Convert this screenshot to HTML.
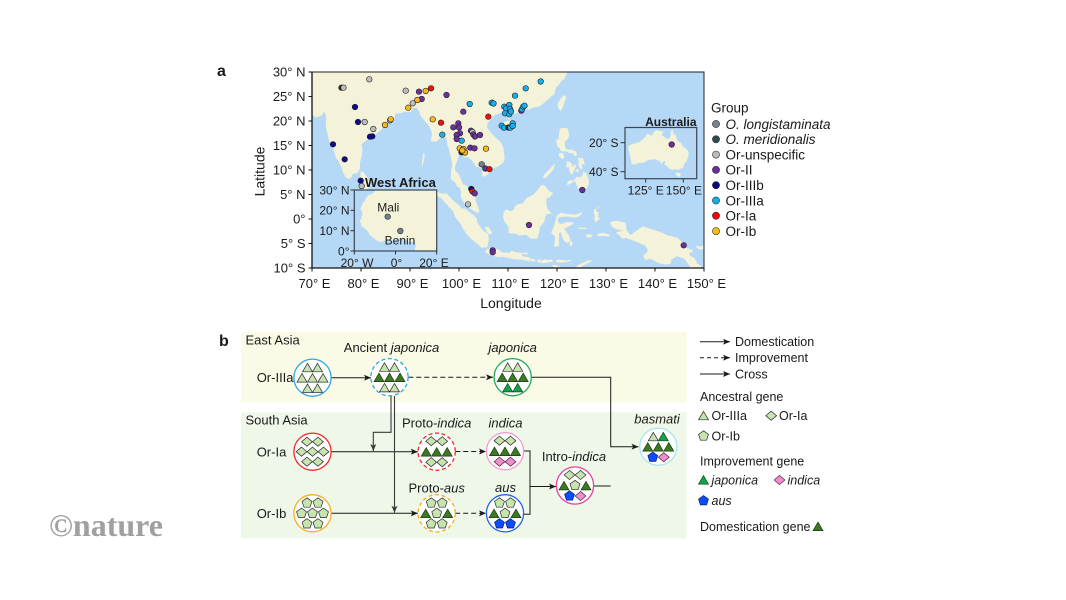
<!DOCTYPE html>
<html><head><meta charset="utf-8"><style>
html,body{margin:0;padding:0;background:#fff;}
svg{display:block;}
text{font-family:"Liberation Sans",Arial,sans-serif;fill:#1a1a1a;}
</style></head><body>
<svg width="1066" height="600" viewBox="0 0 1066 600" xmlns="http://www.w3.org/2000/svg">
<defs>
<clipPath id="mapclip"><rect x="312" y="72" width="392" height="196"/></clipPath>
<clipPath id="waclip"><rect x="354.3" y="190" width="82.4" height="61"/></clipPath>
<clipPath id="auclip"><rect x="625" y="127.5" width="71.7" height="51.2"/></clipPath>
<marker id="ah" markerWidth="7" markerHeight="6" refX="7" refY="3" orient="auto" markerUnits="userSpaceOnUse"><path d="M0,0 L7,3 L0,6 L1.6,3 z" fill="#1a1a1a"/></marker>
<marker id="ahg" markerWidth="7" markerHeight="6" refX="7" refY="3" orient="auto" markerUnits="userSpaceOnUse"><path d="M0,0 L7,3 L0,6 L1.6,3 z" fill="#3a3a3a"/></marker>
<polygon id="tL" points="0,-4.4 5,4.1 -5,4.1" fill="#c6e4ad" stroke="#2a2a2a" stroke-width="0.7"/>
<polygon id="tD" points="0,-4.4 5,4.1 -5,4.1" fill="#3b7a22" stroke="#1e3a12" stroke-width="0.7"/>
<polygon id="tG" points="0,-4.4 5,4.1 -5,4.1" fill="#13a34a" stroke="#0b4a22" stroke-width="0.7"/>
<polygon id="dL" points="0,-4.6 5.4,0 0,4.6 -5.4,0" fill="#c6e4ad" stroke="#2a2a2a" stroke-width="0.7"/>
<polygon id="dP" points="0,-4.6 5.4,0 0,4.6 -5.4,0" fill="#f08dd1" stroke="#4a2a3a" stroke-width="0.7"/>
<polygon id="pL" points="0,-5.2 4.95,-1.6 3.06,4.2 -3.06,4.2 -4.95,-1.6" fill="#c6e4ad" stroke="#2a2a2a" stroke-width="0.7"/>
<polygon id="pB" points="0,-5.2 4.95,-1.6 3.06,4.2 -3.06,4.2 -4.95,-1.6" fill="#0b4cff" stroke="#0a1f66" stroke-width="0.7"/>
</defs>

<!-- ===== Panel a ===== -->
<text x="217" y="76" font-size="16" font-weight="bold">a</text>

<rect x="312" y="72" width="392" height="196" fill="#b5d8f7"/>
<g clip-path="url(#mapclip)">
<g transform="translate(-31,219) scale(4.9,-4.9)" fill="#f4f2d8">
<polygon points="68,31 68,23.6 68.8,23.2 69.5,22.8 70.2,22.6 69.2,22.3 69.8,21.5 70.8,20.7 72.1,21.2 72.5,22 72.7,21.4 72.9,20.5 72.8,19 73.2,17.2 73.5,16 74.1,14.8 74.6,13.5 74.9,12.5 75.5,11.6 75.9,10.8 76.3,9.6 76.8,8.6 77.5,8.1 78.1,8.6 78.3,9.2 79.2,9.3 79.8,10.3 79.8,11.5 80.2,13 80.3,14.3 80.1,15.3 80.9,15.9 81.5,16.3 82.3,16.6 83.4,17.6 84.2,18.3 85.1,19.4 86.3,20 86.9,20.8 87,21.5 88.2,21.6 89,21.9 90.2,21.9 90.6,22.6 91.4,22.7 91.9,21.8 92.1,21.1 92.6,20.5 93.1,19.9 93.7,19.2 94.3,18.2 94.5,17.3 94.2,16 94.8,15.8 95.4,15.8 96,16.4 96.5,16.6 97,16.9 97.5,16.4 97.6,15.2 98,14.1 98.2,13.1 98.5,12 98.6,10.9 98.4,9.9 98.3,8.2 98.6,7.9 99.2,7.5 99.7,6.5 100.2,6.4 100.4,5.5 100.4,4.3 100.8,3.7 101.3,2.9 102.2,2.2 103.2,1.5 103.6,1.3 104.2,1.4 103.9,2.5 103.4,3.8 103.3,4.9 102.7,5.7 102.1,6.2 101.4,6.9 100.8,7.1 100.3,8.4 99.9,9.2 99.2,9.9 99.2,10.8 99.6,11.8 99.9,12.6 100,13.3 100.6,13.5 100.9,13.2 100.9,12.6 101.7,12.6 102.5,12.1 103,11.4 103.5,10.6 104.3,10.5 104.8,10.2 104.7,9.3 104.8,8.6 105.4,8.8 106.2,9.4 106.7,9.9 107.2,10.4 108.1,10.8 108.9,11.4 109.2,11.7 109.3,12.6 109.2,13.4 109.1,14.4 108.8,15.2 108.3,15.9 107.6,16.5 107.1,17 106.5,17.7 106,18.3 105.7,18.9 105.9,19.7 106.4,20.2 106.8,20.7 107.4,21.3 108.1,21.5 108.6,21.7 109.2,21.4 109.7,21.5 109.8,20.9 110.1,20.3 110.4,20.3 110.5,21.1 111,21.4 111.7,21.6 112.3,21.7 113,22 113.6,22.5 114.2,22.3 114.8,22.6 115.5,22.8 116.3,22.9 117,23.4 117.7,24 118.3,24.5 118.8,25 119.5,25.5 119.6,26.3 119.9,26.9 120.4,27.4 120.9,28.1 121.5,28.6 121.9,29.5 122.1,30 122,31"/>
<polygon points="79.8,8.1 79.9,9.4 80.2,9.8 80.8,9.2 81.2,8.5 81.8,7.5 81.8,6.9 81.6,6.3 80.6,5.9 80.1,6.1 79.8,7"/>
<polygon points="92.7,13.6 93,13 92.9,12.2 92.7,11.4 92.5,10.6 92.4,11.5 92.6,12.5"/>
<polygon points="108.6,19.2 108.7,18.5 109.5,18.2 110.1,18.4 110.6,18.9 111,19.7 110.6,20.1 109.8,20 109.2,19.8 108.7,19.5"/>
<polygon points="120.1,23 120.7,22 121.2,22.8 121.6,24 121.9,24.9 121.5,25.3 120.8,24.7 120.2,23.6"/>
<polygon points="120.6,18.5 121.2,18.6 122.2,18.5 122.5,17.1 122.2,16.3 121.6,15.8 121.6,14.9 121.8,14.3 122.3,14.1 122.9,14.2 123.9,13.8 124.1,13 123.7,12.8 123.1,13.5 122.6,13.4 122,13.8 121.4,13.8 120.8,13.8 120.6,14.4 120.1,14.8 119.9,15.6 119.8,16.3 120.3,16.1 120.4,17.4"/>
<polygon points="120.4,13.5 121.3,13.4 121.5,12.6 121.1,12.2 120.4,12.8"/>
<polygon points="117.2,8.4 117.7,8.4 118.6,9.3 119.3,10.2 119.6,11.3 119.3,11.1 118.7,10.4 117.9,9.6 117.2,8.8"/>
<polygon points="121.9,11.9 122.6,11.6 123.1,11.2 122.5,10.6 121.9,10.5 122,11.4"/>
<polygon points="122.4,10.8 123.1,11 123.5,10.2 123.2,9.1 122.7,9.4 122.5,9.9"/>
<polygon points="123.5,11.2 123.9,10.9 123.5,9.9 123.3,10.3"/>
<polygon points="124.3,12.5 125.3,12.4 125.7,11.2 125,11.1 124.4,11.6"/>
<polygon points="124.4,11.5 125,11.2 125.2,10.3 124.8,10.1 124.4,10.9"/>
<polygon points="123.8,10.1 124.5,10.1 124.3,9.6 123.8,9.7"/>
<polygon points="122,6.9 122.2,7.6 122.8,7.9 123.4,7.8 123.7,8.2 123.9,8.6 124.7,8.5 125.2,8.9 125.4,9.7 126,9.3 126.4,8.3 126.5,7.3 126.1,6.3 125.4,5.6 125.2,6.2 124.2,6.2 124,7 123.7,7.7 123.2,7.5 122.8,7.2"/>
<polygon points="109.6,2 109.1,1.3 109,0.4 109.3,-0.6 110.1,-1.6 110.1,-2.9 111.5,-3 112.4,-3.4 113.7,-3.2 114.6,-4 116,-4 116.3,-3 116.5,-1.6 117.4,-0.6 117.6,0.5 118,1 118.9,1.1 118,2.2 117.8,3.2 117.9,4.2 118.6,4.5 119.2,5.3 118.3,5.8 117.6,6.7 117,7 116.6,6.7 116.1,6 115.4,5.2 115,4.9 114.5,4.6 113.8,4.3 113,3.2 112,3 111.4,2.6 111.2,1.9 110.5,1.6"/>
<polygon points="95.3,5.6 96.5,5.2 97.5,5.2 98.3,4.3 99,3.6 99.9,2.9 100.5,2.2 101.3,2.1 102,1.5 103,0.8 103.6,0.1 103.9,-1 104.5,-1.8 105,-2.4 105.9,-3 106.1,-4 105.8,-5.8 105.3,-5.8 104.6,-5.9 103.8,-5.1 102.5,-4.1 101.5,-3 100.8,-2 100.3,-1 99.7,-0.2 99.2,0.4 98.8,1.6 98.1,2.3 97.2,3.3 96.4,4.2 95.5,4.8"/>
<polygon points="105.2,-1.6 106,-1.6 106.5,-2.3 106.8,-3 106.1,-3.1 105.5,-2.3"/>
<polygon points="105.2,-6.8 105.8,-6.1 106.4,-6 107.3,-6 108.3,-6.3 108.7,-6.8 110.3,-6.9 110.8,-6.4 111.3,-6.7 112.6,-6.9 113,-7.6 114.4,-7.8 114.5,-8.7 113.5,-8.4 112.4,-8.3 111,-8.2 110.2,-8 109,-7.7 108,-7.8 106.5,-7.4 105.5,-6.9"/>
<polygon points="112.7,-6.9 114,-6.9 114.1,-7.2 112.8,-7.2"/>
<polygon points="114.4,-8.1 115.2,-8.1 115.7,-8.4 115.2,-8.8 114.5,-8.4"/>
<polygon points="116,-8.3 116.6,-8.2 116.7,-8.9 116,-8.8"/>
<polygon points="116.8,-8.5 117.7,-8.2 118.3,-8.4 119,-8.2 119.1,-8.7 118.4,-8.8 117.5,-9 116.8,-9"/>
<polygon points="119.8,-8.4 120.8,-8.3 121.8,-8.5 122.8,-8.3 123,-8.4 122.4,-8.7 121,-8.9 119.9,-8.8"/>
<polygon points="119,-9.4 119.9,-9.4 120.8,-10 120.2,-10.3 119.2,-9.8"/>
<polygon points="123.6,-10.2 124.2,-9.5 125.1,-9 126.2,-8.5 127.2,-8.4 126.8,-8.8 125.2,-9.6 124.3,-10.2"/>
<polygon points="119.4,-5.6 119.6,-4.3 119.6,-3.5 119,-3.1 118.8,-2.7 119.3,-1.7 119.6,-0.7 119.8,0.2 120.1,0.8 120.8,1.3 121.5,1.1 122.5,1 123.6,0.9 124.5,1.1 125.2,1.6 124.9,0.9 124.3,0.4 123.3,0.3 122,0.5 121,0.4 120.3,0.3 120.1,-0.3 120.6,-1 121.4,-0.9 122,-0.6 123.2,-0.7 123.4,-1 122.6,-1.4 122.1,-1.7 121.5,-1.9 122,-2.8 122.4,-3.3 122.8,-4.4 122.2,-4.9 121.5,-4.6 121.1,-3.8 120.8,-2.7 120.4,-2.9 120.4,-4 120.4,-5.5 119.8,-5.6"/>
<polygon points="122.6,-4.6 123.2,-4.7 123,-5.6 122.6,-5.3"/>
<polygon points="127.5,1.9 128,2.2 128,1.5 128.6,1.4 128.3,0.9 128.6,0.6 128.2,0.4 128.8,0.1 128.2,-0.4 127.8,-0.7 127.6,-0.1 127.8,0.7 127.5,1.1"/>
<polygon points="128.3,2.6 128.6,2.5 128.5,2"/>
<polygon points="128.1,-3.1 129.4,-2.8 130.6,-3.1 130.8,-3.6 129.9,-3.5 128.5,-3.5"/>
<polygon points="125.9,-3.2 126.7,-3.1 127.2,-3.4 126.9,-3.8 126,-3.7"/>
<polygon points="124.3,-1.7 126,-1.8 125.9,-2.1 124.4,-2"/>
<polygon points="130.8,-0.8 131.5,-0.4 132.5,-0.4 134,-0.8 134.2,-2.3 135,-3.3 136.5,-2.2 137.5,-1.5 139,-2 141,-2.6 142.5,-3.3 144.5,-3.8 145.8,-4.9 145.9,-5.6 147.5,-6.3 147.8,-6.8 147,-6.9 147.1,-7.5 148.1,-8 148.6,-9.1 149.3,-9.6 150.2,-10.3 147.5,-10.2 146,-8.1 144.5,-7.6 143.3,-8.3 143.3,-9 142.5,-9.3 141,-9.1 139,-8.1 138,-8.4 137.6,-7.5 138.6,-6.5 138,-5.4 136,-4.6 134.2,-3.9 133.3,-4 132.7,-3.3 132,-2.8 133.5,-2.3 132,-2.1 131.2,-1.5"/>
<polygon points="148.3,-5.5 149.2,-5.6 150.2,-5.3 151,-5 151.4,-4.3 152,-4.2 152.4,-4.7 151.6,-5.4 150.6,-6.2 149,-6.2 148.3,-5.7"/>
</g>
</g>

<!-- dots -->
<g stroke="#1f1f1f" stroke-width="0.6">
<circle cx="341.5" cy="87.7" r="2.8" fill="#1d2b2b"/>
<circle cx="343.5" cy="87.7" r="2.8" fill="#bdbdbd"/>
<circle cx="369.3" cy="79.3" r="2.8" fill="#bdbdbd"/>
<circle cx="405.7" cy="90.7" r="2.8" fill="#bdbdbd"/>
<circle cx="419" cy="91.7" r="2.8" fill="#6d2f9e"/>
<circle cx="425.7" cy="91" r="2.8" fill="#f7b81a"/>
<circle cx="431" cy="88.3" r="2.8" fill="#f20f0f"/>
<circle cx="446.5" cy="95" r="2.8" fill="#6d2f9e"/>
<circle cx="421.7" cy="99" r="2.8" fill="#6d2f9e"/>
<circle cx="417.3" cy="100" r="2.8" fill="#f7b81a"/>
<circle cx="412.7" cy="103.3" r="2.8" fill="#bdbdbd"/>
<circle cx="408.3" cy="107.7" r="2.8" fill="#f7b81a"/>
<circle cx="355" cy="107" r="2.8" fill="#0d0d8a"/>
<circle cx="358" cy="122" r="2.8" fill="#0d0d8a"/>
<circle cx="364.7" cy="122" r="2.8" fill="#bdbdbd"/>
<circle cx="373.3" cy="129" r="2.8" fill="#bdbdbd"/>
<circle cx="370" cy="136.7" r="2.8" fill="#0d0d8a"/>
<circle cx="372.3" cy="136.3" r="2.8" fill="#0d0d8a"/>
<circle cx="390" cy="120.3" r="2.8" fill="#bdbdbd"/>
<circle cx="390.7" cy="119.3" r="2.8" fill="#f7b81a"/>
<circle cx="385" cy="125" r="2.8" fill="#f7b81a"/>
<circle cx="333" cy="144.3" r="2.8" fill="#0d0d8a"/>
<circle cx="344.7" cy="159.3" r="2.8" fill="#0d0d8a"/>
<circle cx="360.7" cy="180.7" r="2.8" fill="#0d0d8a"/>
<circle cx="361.7" cy="186" r="2.8" fill="#bdbdbd"/>
<circle cx="432.7" cy="119.3" r="2.8" fill="#f7b81a"/>
<circle cx="441" cy="122.7" r="2.8" fill="#f20f0f"/>
<circle cx="442.3" cy="134.7" r="2.8" fill="#14b0ee"/>
<circle cx="469.7" cy="104" r="2.8" fill="#14b0ee"/>
<circle cx="463.3" cy="111.7" r="2.8" fill="#6d2f9e"/>
<circle cx="488.3" cy="116.7" r="2.8" fill="#f20f0f"/>
<circle cx="491.7" cy="102.7" r="2.8" fill="#14b0ee"/>
<circle cx="493.5" cy="103.5" r="2.8" fill="#14b0ee"/>
<circle cx="453.3" cy="127.3" r="2.8" fill="#6d2f9e"/>
<circle cx="458.3" cy="123.3" r="2.8" fill="#6d2f9e"/>
<circle cx="459" cy="127.5" r="2.8" fill="#6d2f9e"/>
<circle cx="460" cy="133.3" r="2.8" fill="#6d2f9e"/>
<circle cx="456.7" cy="135" r="2.8" fill="#6d2f9e"/>
<circle cx="456.7" cy="139" r="2.8" fill="#6d2f9e"/>
<circle cx="461.7" cy="140.7" r="2.8" fill="#14b0ee"/>
<circle cx="471" cy="130.7" r="2.8" fill="#6d2f9e"/>
<circle cx="472.5" cy="132" r="2.8" fill="#bdbdbd"/>
<circle cx="473.3" cy="134.5" r="2.8" fill="#6d2f9e"/>
<circle cx="475" cy="136.5" r="2.8" fill="#6d2f9e"/>
<circle cx="480" cy="135" r="2.8" fill="#6d2f9e"/>
<circle cx="459.7" cy="148.3" r="2.8" fill="#f7b81a"/>
<circle cx="461.5" cy="152.3" r="2.8" fill="#1d2b2b"/>
<circle cx="463.5" cy="149" r="2.8" fill="#f7b81a"/>
<circle cx="465" cy="152.5" r="2.8" fill="#f7b81a"/>
<circle cx="462.3" cy="150.5" r="2.8" fill="#f7b81a"/>
<circle cx="470.3" cy="147.7" r="2.8" fill="#6d2f9e"/>
<circle cx="474.5" cy="148.3" r="2.8" fill="#6d2f9e"/>
<circle cx="486" cy="148.7" r="2.8" fill="#f7b81a"/>
<circle cx="481.7" cy="164.3" r="2.8" fill="#74808b"/>
<circle cx="485.3" cy="168.5" r="2.8" fill="#6d2f9e"/>
<circle cx="489.5" cy="169.2" r="2.8" fill="#f20f0f"/>
<circle cx="471.3" cy="189" r="2.8" fill="#0d0d8a"/>
<circle cx="472.5" cy="191.5" r="2.8" fill="#f20f0f"/>
<circle cx="474.7" cy="193.3" r="2.8" fill="#6d2f9e"/>
<circle cx="468" cy="204.3" r="2.8" fill="#bdbdbd"/>
<circle cx="492.7" cy="250.3" r="2.8" fill="#6d2f9e"/>
<circle cx="492.7" cy="252.3" r="2.8" fill="#6d2f9e"/>
<circle cx="540.7" cy="81.5" r="2.8" fill="#14b0ee"/>
<circle cx="525.7" cy="88.3" r="2.8" fill="#14b0ee"/>
<circle cx="515" cy="95.7" r="2.8" fill="#14b0ee"/>
<circle cx="504.3" cy="106.7" r="2.8" fill="#14b0ee"/>
<circle cx="506" cy="108.5" r="2.8" fill="#14b0ee"/>
<circle cx="509.3" cy="105" r="2.8" fill="#14b0ee"/>
<circle cx="510" cy="109" r="2.8" fill="#14b0ee"/>
<circle cx="505" cy="113.3" r="2.8" fill="#14b0ee"/>
<circle cx="509.3" cy="114.3" r="2.8" fill="#14b0ee"/>
<circle cx="511" cy="111.5" r="2.8" fill="#14b0ee"/>
<circle cx="521.3" cy="110.7" r="2.8" fill="#6d2f9e"/>
<circle cx="521.9" cy="109.3" r="2.8" fill="#14b0ee"/>
<circle cx="523.3" cy="106.7" r="2.8" fill="#14b0ee"/>
<circle cx="524.5" cy="105.7" r="2.8" fill="#14b0ee"/>
<circle cx="501.7" cy="125.7" r="2.8" fill="#14b0ee"/>
<circle cx="504" cy="127.7" r="2.8" fill="#14b0ee"/>
<circle cx="508.5" cy="127.5" r="2.8" fill="#1d2b2b"/>
<circle cx="510.3" cy="127.7" r="2.8" fill="#14b0ee"/>
<circle cx="512.7" cy="123.3" r="2.8" fill="#14b0ee"/>
<circle cx="512.7" cy="126" r="2.8" fill="#14b0ee"/>
<circle cx="582.3" cy="190" r="2.8" fill="#6d2f9e"/>
<circle cx="529" cy="225" r="2.8" fill="#6d2f9e"/>
<circle cx="683.7" cy="245.3" r="2.8" fill="#6d2f9e"/>
</g>

<!-- West Africa inset -->
<rect x="354.3" y="190" width="82.4" height="61" fill="#b5d8f7"/>
<g clip-path="url(#waclip)">
<g transform="translate(395.5,251) scale(2.06,-2.03)" fill="#f4f2d8">
<polygon points="-9.8,32 -9.8,30 -10.2,29.2 -11.5,28 -13,27.6 -14.5,26 -15,24.5 -16,23.5 -16.5,22 -17.1,21 -16.3,19.5 -16.1,18 -16.5,16.3 -17.5,14.7 -16.7,13.5 -16.8,12.3 -15.5,11.5 -14.5,10.7 -13.3,9.5 -12.5,7.8 -11,6.8 -9.5,5.5 -7.6,4.4 -5,5.1 -2,4.8 0,5.6 1.5,6.2 3.5,6.4 5,5.7 6,4.3 7.5,4.4 8.5,4.6 9.5,3.9 9.8,2.5 9.4,1 9.3,-2 26,-2 26,32"/>
</g>
</g>
<rect x="354.3" y="190" width="82.4" height="61" fill="none" stroke="#3d4650" stroke-width="1.2"/>
<g stroke="#333" stroke-width="1">
<line x1="350.5" y1="190" x2="354.3" y2="190"/><line x1="350.5" y1="210.3" x2="354.3" y2="210.3"/><line x1="350.5" y1="230.7" x2="354.3" y2="230.7"/><line x1="350.5" y1="251" x2="354.3" y2="251"/>
<line x1="354.3" y1="251" x2="354.3" y2="254.5"/><line x1="395.5" y1="251" x2="395.5" y2="254.5"/><line x1="436.7" y1="251" x2="436.7" y2="254.5"/>
</g>
<g font-size="12" text-anchor="end">
<text x="349.5" y="194.3">30° N</text>
<text x="349.5" y="214.6">20° N</text>
<text x="349.5" y="235">10° N</text>
<text x="349.5" y="255.3">0°</text>
</g>
<g font-size="12" text-anchor="middle">
<text x="357" y="267">20° W</text>
<text x="396.5" y="267">0°</text>
<text x="434" y="267">20° E</text>
</g>
<text x="365" y="187" font-size="13" font-weight="bold">West Africa</text>
<g font-size="12" text-anchor="middle">
<text x="388.3" y="211.5">Mali</text>
<text x="400" y="244.5">Benin</text>
</g>
<circle cx="387.7" cy="216.7" r="2.8" fill="#74808b" stroke="#2a2a2a" stroke-width="0.6"/>
<circle cx="400.3" cy="231" r="2.8" fill="#74808b" stroke="#2a2a2a" stroke-width="0.6"/>

<!-- Australia inset -->
<rect x="625" y="127.5" width="71.7" height="51.2" fill="#b5d8f7"/>
<g clip-path="url(#auclip)">
<g transform="translate(457.7,113.7) scale(1.504,-1.45)" fill="#f4f2d8">
<polygon points="113.4,-22 113.8,-26 114.6,-28.8 115,-31.5 115.6,-33.5 115,-34.2 116.7,-35 118,-35 120,-34 123.6,-33.9 126,-32.3 129,-31.6 131.3,-31.5 134.2,-32.6 135.6,-34.8 136.5,-33.2 137.8,-32.6 137.8,-34 137.5,-35.3 138.5,-35.5 139.6,-36.7 140.6,-38 143,-38.8 144.8,-38.1 146.3,-39 147.8,-37.9 149.9,-37.5 150.2,-35.7 151.2,-33.9 152.5,-32.2 153.6,-28.2 153,-25.3 151.1,-23.5 149.6,-22.4 148.8,-20.4 146.3,-18.9 145.4,-16.3 145.3,-14.9 143.6,-14 143.4,-12.4 142.5,-10.7 141.8,-12.7 141.6,-15.1 140.6,-17.4 139.3,-17.4 137.8,-16.3 135.9,-15.1 135.5,-14.7 136.8,-12.3 136.7,-12.1 135,-12.1 132.6,-11.5 131.9,-11.3 130.2,-12.9 130,-13.5 129.4,-14.9 128.2,-15 127,-13.8 125.7,-14.3 124.4,-16.4 123.5,-17.3 122.2,-18.2 121,-19.5 119,-20 117.2,-20.7 116,-20.9 114.6,-21.8"/>
<polygon points="144.7,-40.7 148.3,-40.9 148,-43.2 146.9,-43.6 145.3,-42.2"/>
</g>
</g>
<rect x="625" y="127.5" width="71.7" height="51.2" fill="none" stroke="#3d4650" stroke-width="1.2"/>
<circle cx="671.7" cy="144.5" r="2.8" fill="#6d2f9e" stroke="#1f1f1f" stroke-width="0.6"/>
<g stroke="#333" stroke-width="1">
<line x1="620.5" y1="142.7" x2="625" y2="142.7"/><line x1="620.5" y1="171.7" x2="625" y2="171.7"/>
<line x1="645.7" y1="178.7" x2="645.7" y2="182.5"/><line x1="683.3" y1="178.7" x2="683.3" y2="182.5"/>
</g>
<g font-size="12" text-anchor="end">
<text x="618.5" y="147">20° S</text>
<text x="618.5" y="176">40° S</text>
</g>
<g font-size="12" text-anchor="middle">
<text x="645.7" y="194.5">125° E</text>
<text x="684" y="194.5">150° E</text>
</g>
<text x="696.5" y="126" font-size="12" font-weight="bold" text-anchor="end">Australia</text>

<!-- main frame and axes -->
<rect x="312" y="72" width="392" height="196" fill="none" stroke="#222" stroke-width="1"/>
<line x1="312" y1="71.5" x2="312" y2="268.5" stroke="#111" stroke-width="1.3"/>
<line x1="311.5" y1="268" x2="704.5" y2="268" stroke="#111" stroke-width="1.3"/>
<g stroke="#111" stroke-width="1">
<line x1="308.5" y1="72" x2="312" y2="72"/><line x1="308.5" y1="96.5" x2="312" y2="96.5"/><line x1="308.5" y1="121" x2="312" y2="121"/><line x1="308.5" y1="145.5" x2="312" y2="145.5"/><line x1="308.5" y1="170" x2="312" y2="170"/><line x1="308.5" y1="194.5" x2="312" y2="194.5"/><line x1="308.5" y1="219" x2="312" y2="219"/><line x1="308.5" y1="243.5" x2="312" y2="243.5"/><line x1="308.5" y1="268" x2="312" y2="268"/>
<line x1="312" y1="268" x2="312" y2="271.5"/><line x1="361" y1="268" x2="361" y2="271.5"/><line x1="410" y1="268" x2="410" y2="271.5"/><line x1="459" y1="268" x2="459" y2="271.5"/><line x1="508" y1="268" x2="508" y2="271.5"/><line x1="557" y1="268" x2="557" y2="271.5"/><line x1="606" y1="268" x2="606" y2="271.5"/><line x1="655" y1="268" x2="655" y2="271.5"/><line x1="704" y1="268" x2="704" y2="271.5"/>
</g>
<g font-size="13" text-anchor="end">
<text x="305.5" y="76.7">30° N</text>
<text x="305.5" y="101.2">25° N</text>
<text x="305.5" y="125.7">20° N</text>
<text x="305.5" y="150.2">15° N</text>
<text x="305.5" y="174.7">10° N</text>
<text x="305.5" y="199.2">5° N</text>
<text x="305.5" y="223.7">0°</text>
<text x="305.5" y="248.2">5° S</text>
<text x="305.5" y="272.7">10° S</text>
</g>
<g font-size="13" text-anchor="middle">
<text x="314.5" y="288">70° E</text>
<text x="363.5" y="288">80° E</text>
<text x="412.5" y="288">90° E</text>
<text x="461.5" y="288">100° E</text>
<text x="510.5" y="288">110° E</text>
<text x="559.5" y="288">120° E</text>
<text x="608.5" y="288">130° E</text>
<text x="657.5" y="288">140° E</text>
<text x="706.5" y="288">150° E</text>
</g>
<text x="511" y="308" font-size="14" text-anchor="middle">Longitude</text>
<text transform="translate(264.5,171.5) rotate(-90)" font-size="14" text-anchor="middle">Latitude</text>

<!-- Group legend -->
<text x="711" y="112.5" font-size="13.5">Group</text>
<g stroke="#333" stroke-width="0.6">
<circle cx="716" cy="124" r="3.6" fill="#78848f"/>
<circle cx="716" cy="139.3" r="3.6" fill="#2f4b4b"/>
<circle cx="716" cy="154.6" r="3.6" fill="#bababa"/>
<circle cx="716" cy="169.9" r="3.6" fill="#6b2d9a"/>
<circle cx="716" cy="185.2" r="3.6" fill="#0a0a80"/>
<circle cx="716" cy="200.5" r="3.6" fill="#10aee8"/>
<circle cx="716" cy="215.8" r="3.6" fill="#ff0000"/>
<circle cx="716" cy="231.1" r="3.6" fill="#fbb917"/>
</g>
<g font-size="13.5">
<text x="725.5" y="128.8" font-style="italic">O. longistaminata</text>
<text x="725.5" y="144.1" font-style="italic">O. meridionalis</text>
<text x="725.5" y="159.4">Or-unspecific</text>
<text x="725.5" y="174.7">Or-II</text>
<text x="725.5" y="190">Or-IIIb</text>
<text x="725.5" y="205.3">Or-IIIa</text>
<text x="725.5" y="220.6">Or-Ia</text>
<text x="725.5" y="235.9">Or-Ib</text>
</g>

<!-- ===== Panel b ===== -->
<text x="219" y="346" font-size="16" font-weight="bold">b</text>
<rect x="241" y="331.7" width="445.7" height="70.6" fill="#fafae6"/>
<rect x="241" y="412.3" width="445.7" height="126" fill="#eff7e8"/>
<g font-size="13">
<text x="245.5" y="344.5">East Asia</text>
<text x="245.5" y="424.5">South Asia</text>
<text x="256.7" y="382.2">Or-IIIa</text>
<text x="256.7" y="456.5">Or-Ia</text>
<text x="256.7" y="518">Or-Ib</text>
</g>
<g font-size="13" text-anchor="middle">
<text x="391.5" y="352">Ancient <tspan font-style="italic">japonica</tspan></text>
<text x="512.7" y="352" font-style="italic">japonica</text>
<text x="436.7" y="427.7">Proto-<tspan font-style="italic">indica</tspan></text>
<text x="505.5" y="427.7" font-style="italic">indica</text>
<text x="436.7" y="492.7">Proto-<tspan font-style="italic">aus</tspan></text>
<text x="505.5" y="492.2" font-style="italic">aus</text>
<text x="574" y="461">Intro-<tspan font-style="italic">indica</tspan></text>
<text x="657" y="423.5" font-style="italic">basmati</text>
</g>

<!-- connectors -->
<g fill="none" stroke="#1a1a1a" stroke-width="1">
<line x1="331" y1="377.7" x2="371" y2="377.7" marker-end="url(#ah)"/>
<line x1="408.3" y1="377.3" x2="493" y2="377.3" stroke-dasharray="5 3" marker-end="url(#ah)"/>
<polyline points="531.5,377.3 610.7,377.3 610.7,446.7 638.5,446.7" marker-end="url(#ah)"/>
<line x1="593.5" y1="486" x2="610.7" y2="486"/>
<polyline points="523.5,451 530,451 530,514.3 523.5,514.3"/>
<line x1="530" y1="486.5" x2="556" y2="486.5" marker-end="url(#ah)"/>
<line x1="455.2" y1="451.5" x2="486" y2="451.5" stroke-dasharray="5 3" marker-end="url(#ah)"/>
<line x1="455.2" y1="513.3" x2="486" y2="513.3" stroke-dasharray="5 3" marker-end="url(#ah)"/>
<line x1="331" y1="451.7" x2="417.8" y2="451.7" marker-end="url(#ah)"/>
<line x1="331" y1="513.3" x2="417.8" y2="513.3" marker-end="url(#ah)"/>
</g>
<g fill="none" stroke="#3a3a3a" stroke-width="1.1">
<polyline points="391,396 391,432.3 373.3,432.3 373.3,451" marker-end="url(#ahg)"/>
<polyline points="394.5,396 394.5,512.8" marker-end="url(#ahg)"/>
</g>

<!-- nodes -->
<g fill="#fff" stroke-width="1.3">
<circle cx="312.5" cy="377.7" r="18.6" stroke="#29aae1"/>
<circle cx="389.5" cy="377.2" r="18.6" stroke="#29aae1" stroke-dasharray="4 2.6"/>
<circle cx="512.7" cy="377.2" r="18.6" stroke="#1daa55"/>
<circle cx="312.5" cy="451.7" r="18.6" stroke="#ee2a2a"/>
<circle cx="436.7" cy="451.7" r="18.6" stroke="#ee2a2a" stroke-dasharray="4 2.6"/>
<circle cx="505" cy="451.2" r="18.6" stroke="#f29bd3"/>
<circle cx="312.5" cy="513.3" r="18.6" stroke="#f6b01e"/>
<circle cx="436.7" cy="513.3" r="18.6" stroke="#f6b01e" stroke-dasharray="4 2.6"/>
<circle cx="505" cy="513.3" r="18.6" stroke="#2360ee"/>
<circle cx="575" cy="485.5" r="18.6" stroke="#e8409f"/>
<circle cx="658.3" cy="446.7" r="18.6" stroke="#a9e4ee"/>
</g>

<!-- glyphs: Or-IIIa -->
<g transform="translate(312.5,377.7)">
<use href="#tL" x="-5" y="-10"/><use href="#tL" x="5" y="-10"/>
<use href="#tL" x="-10.5" y="0.3"/><use href="#tL" x="0" y="0.3"/><use href="#tL" x="10.5" y="0.3"/>
<use href="#tL" x="-5" y="10.6"/><use href="#tL" x="5" y="10.6"/>
</g>
<!-- Ancient japonica -->
<g transform="translate(389.5,377.2)">
<use href="#tL" x="-5" y="-10"/><use href="#tL" x="5" y="-10"/>
<use href="#tD" x="-10.5" y="0.3"/><use href="#tD" x="0" y="0.3"/><use href="#tD" x="10.5" y="0.3"/>
<use href="#tL" x="-5" y="10.6"/><use href="#tL" x="5" y="10.6"/>
</g>
<!-- japonica -->
<g transform="translate(512.7,377.2)">
<use href="#tL" x="-5" y="-10"/><use href="#tL" x="5" y="-10"/>
<use href="#tD" x="-10.5" y="0.3"/><use href="#tD" x="0" y="0.3"/><use href="#tD" x="10.5" y="0.3"/>
<use href="#tG" x="-5" y="10.6"/><use href="#tG" x="5" y="10.6"/>
</g>
<!-- Or-Ia -->
<g transform="translate(312.5,451.7)">
<use href="#dL" x="-5.5" y="-10"/><use href="#dL" x="5.5" y="-10"/>
<use href="#dL" x="-11" y="0"/><use href="#dL" x="0" y="0"/><use href="#dL" x="11" y="0"/>
<use href="#dL" x="-5.5" y="10"/><use href="#dL" x="5.5" y="10"/>
</g>
<!-- Proto-indica -->
<g transform="translate(436.7,451.7)">
<use href="#dL" x="-5.5" y="-10.5"/><use href="#dL" x="5.5" y="-10.5"/>
<use href="#tD" x="-10.5" y="0.3"/><use href="#tD" x="0" y="0.3"/><use href="#tD" x="10.5" y="0.3"/>
<use href="#dL" x="-5.5" y="10.5"/><use href="#dL" x="5.5" y="10.5"/>
</g>
<!-- indica -->
<g transform="translate(505,451.2)">
<use href="#dL" x="-5.5" y="-10.5"/><use href="#dL" x="5.5" y="-10.5"/>
<use href="#tD" x="-10.5" y="0.3"/><use href="#tD" x="0" y="0.3"/><use href="#tD" x="10.5" y="0.3"/>
<use href="#dP" x="-5.5" y="10.5"/><use href="#dP" x="5.5" y="10.5"/>
</g>
<!-- Or-Ib -->
<g transform="translate(312.5,513.3)">
<use href="#pL" x="-5.5" y="-10.3"/><use href="#pL" x="5.5" y="-10.3"/>
<use href="#pL" x="-11" y="0"/><use href="#pL" x="0" y="0"/><use href="#pL" x="11" y="0"/>
<use href="#pL" x="-5.5" y="10.5"/><use href="#pL" x="5.5" y="10.5"/>
</g>
<!-- Proto-aus -->
<g transform="translate(436.7,513.3)">
<use href="#pL" x="-5.5" y="-10.3"/><use href="#pL" x="5.5" y="-10.3"/>
<use href="#tD" x="-11" y="0.3"/><use href="#pL" x="0" y="0"/><use href="#tD" x="11" y="0.3"/>
<use href="#pL" x="-5.5" y="10.5"/><use href="#pL" x="5.5" y="10.5"/>
</g>
<!-- aus -->
<g transform="translate(505,513.3)">
<use href="#pL" x="-5.5" y="-10.3"/><use href="#pL" x="5.5" y="-10.3"/>
<use href="#tD" x="-11" y="0.3"/><use href="#pL" x="0" y="0"/><use href="#tD" x="11" y="0.3"/>
<use href="#pB" x="-5.5" y="10.5"/><use href="#pB" x="5.5" y="10.5"/>
</g>
<!-- Intro-indica -->
<g transform="translate(575,485.5)">
<use href="#dL" x="-5.5" y="-10.5"/><use href="#dL" x="5.5" y="-10.5"/>
<use href="#tD" x="-11" y="0.3"/><use href="#pL" x="0" y="0"/><use href="#tD" x="11" y="0.3"/>
<use href="#pB" x="-5.5" y="10.5"/><use href="#dP" x="5.5" y="10.5"/>
</g>
<!-- basmati -->
<g transform="translate(658.3,446.7)">
<use href="#tL" x="-5" y="-10"/><use href="#tG" x="5" y="-10"/>
<use href="#tD" x="-10.5" y="0.3"/><use href="#tD" x="0" y="0.3"/><use href="#tD" x="10.5" y="0.3"/>
<use href="#pB" x="-5.5" y="10.5"/><use href="#dP" x="5.5" y="10.5"/>
</g>

<!-- panel b legend -->
<g fill="none" stroke="#1a1a1a" stroke-width="1">
<line x1="700" y1="341.7" x2="730" y2="341.7" marker-end="url(#ah)"/>
<line x1="700" y1="357.7" x2="730" y2="357.7" stroke-dasharray="4 3" marker-end="url(#ah)"/>
<line x1="700" y1="374" x2="730" y2="374" marker-end="url(#ah)"/>
</g>
<g font-size="12.5">
<text x="735" y="346.2">Domestication</text>
<text x="735" y="362.2">Improvement</text>
<text x="735" y="378.5">Cross</text>
<text x="700" y="401">Ancestral gene</text>
<text x="711.5" y="420.2">Or-IIIa</text>
<text x="779" y="420.2">Or-Ia</text>
<text x="711.5" y="440.5">Or-Ib</text>
<text x="700" y="465.5">Improvement gene</text>
<text x="711.5" y="484.5" font-style="italic">japonica</text>
<text x="787.5" y="484.5" font-style="italic">indica</text>
<text x="711.5" y="505" font-style="italic">aus</text>
<text x="700" y="531">Domestication gene</text>
</g>
<use href="#tL" x="703.5" y="415.7"/>
<use href="#dL" x="771.2" y="415.7"/>
<use href="#pL" x="703.5" y="436"/>
<use href="#tG" x="703.5" y="480"/>
<use href="#dP" x="779.5" y="480"/>
<use href="#pB" x="703.5" y="500.7"/>
<use href="#tD" x="818" y="526.5"/>

<!-- logo -->
<text x="49" y="536" font-family="'Liberation Serif',serif" font-size="32" font-weight="bold" fill="#a0a0a0" style="fill:#a0a0a0;font-family:'Liberation Serif',serif">©nature</text>
</svg>
</body></html>
